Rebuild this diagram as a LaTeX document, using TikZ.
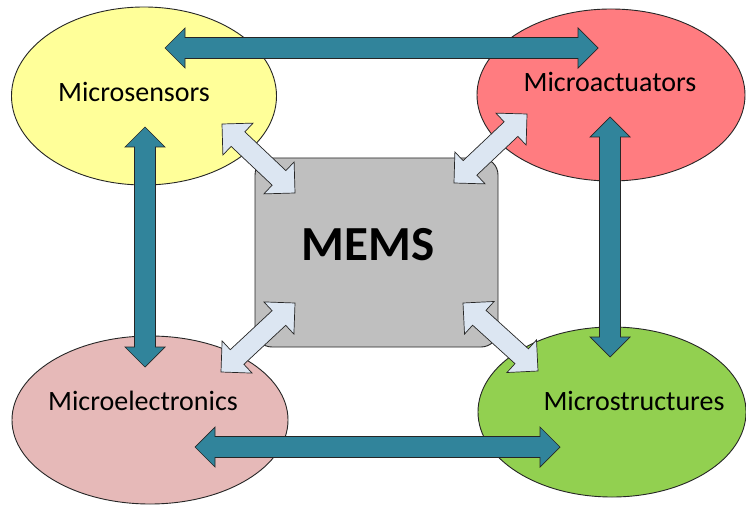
\documentclass[tikz,border=0pt]{standalone}
\usepackage{fontspec}
\setmainfont{Carlito}
\usetikzlibrary{calc,shapes.geometric}

\definecolor{sensorfill}{HTML}{FFFF99}
\definecolor{actuatorfill}{HTML}{FF7C80}
\definecolor{electronicsfill}{HTML}{E6B9B8}
\definecolor{structurefill}{HTML}{92D050}
\definecolor{memsfill}{HTML}{BFBFBF}
\definecolor{linkteal}{HTML}{31849B}
\definecolor{linklight}{HTML}{DCE6F2}
\definecolor{edgegray}{HTML}{262626}

\tikzset{
  fieldblob/.style={ellipse, draw=edgegray, line width=0.9pt, inner sep=0pt},
  core/.style={draw=edgegray, line width=0.9pt, fill=memsfill, rounded corners=17pt},
  fieldtext/.style={font=\fontsize{28}{32}\selectfont},
  coretext/.style={font=\fontsize{49}{55}\selectfont\bfseries},
  tealarrow/.style={fill=linkteal, draw=edgegray, line width=0.7pt, line join=miter},
  lightarrow/.style={fill=linklight, draw=edgegray, line width=0.7pt, line join=miter}
}

% double-headed block arrow: style, end A, end B, head length, head half width, shaft half width
\newcommand\blockarrow[6]{%
  \path (#2) coordinate (ba-a) (#3) coordinate (ba-b);
  \path ($(ba-a)!#4!(ba-b)$) coordinate (ba-a1) ($(ba-b)!#4!(ba-a)$) coordinate (ba-b1);
  \draw[#1] (ba-a)
    -- ($(ba-a1)!#5!90:(ba-b)$) -- ($(ba-a1)!#6!90:(ba-b)$)
    -- ($(ba-b1)!#6!-90:(ba-a)$) -- ($(ba-b1)!#5!-90:(ba-a)$)
    -- (ba-b)
    -- ($(ba-b1)!#5!90:(ba-a)$) -- ($(ba-b1)!#6!90:(ba-a)$)
    -- ($(ba-a1)!#6!-90:(ba-b)$) -- ($(ba-a1)!#5!-90:(ba-b)$)
    -- cycle;
}

\begin{document}
\begin{tikzpicture}[x=1pt, y=-1pt]
\useasboundingbox[fill=white] (0,0) rectangle (746,505);

% four fields
\node[fieldblob, fill=sensorfill, minimum width=265pt, minimum height=178pt] (sens) at (144,96) {};
\node[fieldblob, fill=actuatorfill, minimum width=268pt, minimum height=172pt] (act) at (611,95) {};
\node[fieldblob, fill=electronicsfill, minimum width=276pt, minimum height=168pt] (elec) at (150,420) {};
\node[fieldblob, fill=structurefill, minimum width=268pt, minimum height=170pt] (struc) at (612,412) {};

% central block
\node[core, minimum width=243pt, minimum height=189pt] (mems) at (376.5,252.5) {};
\node[coretext] (memslabel) at (368,245) {MEMS};

% arrow end points
\coordinate (s-top) at (165,48);   \coordinate (a-top) at (598,48);
\coordinate (s-down) at (145,127); \coordinate (e-up) at (145,367);
\coordinate (a-down) at (610,117); \coordinate (t-up) at (610,357);
\coordinate (e-right) at (195,447); \coordinate (t-left) at (560,447);

\coordinate (s-m) at (222,124); \coordinate (m-s) at (295,193);
\coordinate (a-m) at (527,114); \coordinate (m-a) at (454,183);
\coordinate (e-m) at (221,372); \coordinate (m-e) at (295,303);
\coordinate (t-m) at (538,371); \coordinate (m-t) at (463,303);

% links between the fields
\blockarrow{tealarrow}{s-top}{a-top}{20pt}{20pt}{10.5pt}
\blockarrow{tealarrow}{s-down}{e-up}{20pt}{20pt}{10.5pt}
\blockarrow{tealarrow}{a-down}{t-up}{20pt}{20pt}{10.5pt}
\blockarrow{tealarrow}{e-right}{t-left}{20pt}{20pt}{10.5pt}

% links to the central block
\blockarrow{lightarrow}{s-m}{m-s}{22pt}{22pt}{10pt}
\blockarrow{lightarrow}{a-m}{m-a}{22pt}{22pt}{10pt}
\blockarrow{lightarrow}{e-m}{m-e}{22pt}{22pt}{10pt}
\blockarrow{lightarrow}{t-m}{m-t}{22pt}{22pt}{10pt}

% labels
\node[fieldtext] (senslabel) at (134,92) {Microsensors};
\node[fieldtext] (actlabel) at (610,82) {Microactuators};
\node[fieldtext] (eleclabel) at (143,401) {Microelectronics};
\node[fieldtext] (struclabel) at (634,401) {Microstructures};
\end{tikzpicture}
\end{document}
